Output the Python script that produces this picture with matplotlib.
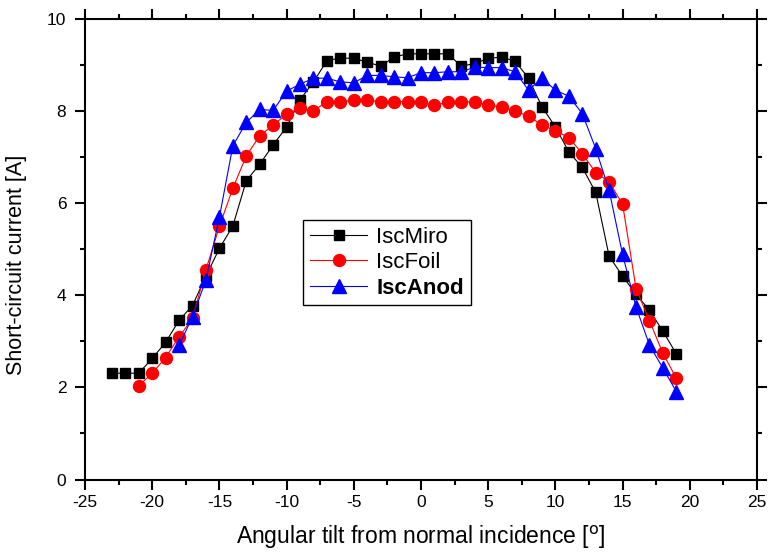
import matplotlib
matplotlib.use('Agg')
import matplotlib.pyplot as plt
from matplotlib.ticker import MultipleLocator

plt.rcParams['font.family'] = ['Liberation Sans', 'DejaVu Sans']
plt.rcParams['axes.unicode_minus'] = False

# angular tilt [deg] and short-circuit current [A]
angle_miro = [-23, -22, -21, -20, -19, -18, -17, -16, -15, -14, -13, -12, -11, -10, -9, -8, -7, -6, -5, -4, -3, -2,
              -1, 0, 1, 2, 3, 4, 5, 6, 7, 8, 9, 10, 11, 12, 13, 14, 15, 16, 17, 18, 19]
isc_miro = [2.31, 2.31, 2.31, 2.63, 2.98, 3.46, 3.78, 4.42, 5.02, 5.51, 6.49, 6.85, 7.27, 7.66, 8.25, 8.64, 9.10,
            9.16, 9.15, 9.07, 8.98, 9.18, 9.25, 9.25, 9.25, 9.25, 8.98, 9.04, 9.15, 9.18, 9.09, 8.72, 8.10, 7.66,
            7.12, 6.78, 6.24, 4.85, 4.42, 4.02, 3.68, 3.22, 2.73]

angle_foil = [-21, -20, -19, -18, -17, -16, -15, -14, -13, -12, -11, -10, -9, -8, -7, -6, -5, -4, -3, -2, -1, 0,
              1, 2, 3, 4, 5, 6, 7, 8, 9, 10, 11, 12, 13, 14, 15, 16, 17, 18, 19]
isc_foil = [2.04, 2.31, 2.65, 3.10, 3.50, 4.56, 5.50, 6.33, 7.03, 7.47, 7.70, 7.94, 8.07, 8.01, 8.21, 8.21, 8.24,
            8.24, 8.21, 8.21, 8.21, 8.20, 8.13, 8.20, 8.20, 8.21, 8.13, 8.10, 8.00, 7.90, 7.70, 7.58, 7.43, 7.08,
            6.67, 6.47, 5.98, 4.15, 3.45, 2.74, 2.20]

angle_anod = [-18, -17, -16, -15, -14, -13, -12, -11, -10, -9, -8, -7, -6, -5, -4, -3, -2, -1, 0, 1, 2, 3, 4, 5,
              6, 7, 8, 9, 10, 11, 12, 13, 14, 15, 16, 17, 18, 19]
isc_anod = [2.92, 3.53, 4.34, 5.70, 7.25, 7.76, 8.04, 8.02, 8.44, 8.59, 8.72, 8.72, 8.64, 8.62, 8.78, 8.78, 8.75,
            8.73, 8.84, 8.84, 8.86, 8.86, 8.96, 8.95, 8.95, 8.86, 8.46, 8.72, 8.46, 8.33, 7.95, 7.19, 6.28, 4.89,
            3.75, 2.92, 2.42, 1.91]

fig = plt.figure(figsize=(7.69, 5.54), dpi=100)
ax = fig.add_axes([85 / 769, 1 - 479.5 / 554, 672 / 769, 460.2 / 554])

ax.plot(angle_miro, isc_miro, color='black', lw=0.8, marker='s', ms=7.7, label='IscMiro')
ax.plot(angle_foil, isc_foil, color='red', lw=0.8, marker='o', ms=8.6, label='IscFoil')
ax.plot(angle_anod, isc_anod, color='blue', lw=0.8, marker='^', ms=9.5, label='IscAnod')

ax.set_xlim(-25, 25)
ax.set_ylim(0, 10)
ax.xaxis.set_major_locator(MultipleLocator(5))
ax.xaxis.set_minor_locator(MultipleLocator(2.5))
ax.yaxis.set_major_locator(MultipleLocator(2))
ax.yaxis.set_minor_locator(MultipleLocator(1))
ax.tick_params(which='both', direction='out', top=True, right=True, labeltop=False, labelright=False,
               width=1.5, labelsize=12.5)
ax.tick_params(which='major', length=7.5)
ax.tick_params(which='minor', length=3.5)
ax.tick_params(axis='y', which='major', pad=6)
for s in ax.spines.values():
    s.set_linewidth(1.5)

ax.set_xlabel('Angular tilt from normal incidence [$^{\\mathrm{o}}$]', fontsize=16.5, labelpad=10)
ax.set_ylabel('Short-circuit current [A]', fontsize=15.5)
ax.yaxis.set_label_coords(-0.086, 0.467)

leg = ax.legend(loc='upper left', bbox_to_anchor=(303 / 769, 1 - 220 / 554), bbox_transform=fig.transFigure,
                borderaxespad=0, fancybox=False, edgecolor='black', framealpha=1, fontsize=16,
                handlelength=2.6, handletextpad=0.4, labelspacing=0.2, borderpad=0.3)
leg.get_frame().set_linewidth(1.0)
leg.get_texts()[2].set_fontweight('bold')

fig.savefig('out.png', dpi=100)
